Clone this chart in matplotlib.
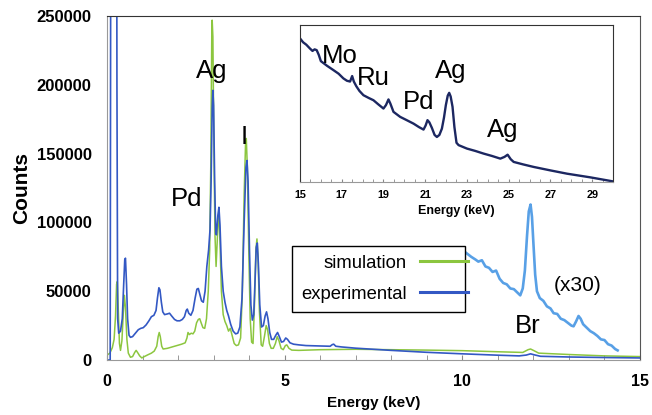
import numpy as np
import matplotlib.pyplot as plt

plt.rcParams['font.family'] = ['Liberation Sans', 'DejaVu Sans']

# simulated spectrum (keV, counts)
sim_energy = [0.0, 0.08, 0.15, 0.20, 0.24, 0.27, 0.29, 0.32, 0.35, 0.38, 0.42, 0.46, 0.49, 0.52,
              0.56, 0.60, 0.66, 0.72, 0.78, 0.82, 0.86, 0.92, 0.98, 1.05, 1.15, 1.25, 1.33, 1.40,
              1.44, 1.47, 1.50, 1.54, 1.58, 1.70, 1.90, 2.10, 2.20, 2.25, 2.28, 2.32, 2.37, 2.42,
              2.47, 2.52, 2.57, 2.61, 2.65, 2.70, 2.75, 2.80, 2.85, 2.89, 2.92, 2.95, 2.96, 2.98,
              3.01, 3.04, 3.07, 3.10, 3.13, 3.15, 3.18, 3.22, 3.27, 3.32, 3.37, 3.42, 3.47, 3.52,
              3.58, 3.64, 3.70, 3.76, 3.81, 3.86, 3.90, 3.92, 3.95, 3.99, 4.03, 4.07, 4.11, 4.15,
              4.19, 4.22, 4.25, 4.29, 4.34, 4.38, 4.43, 4.48, 4.52, 4.57, 4.62, 4.68, 4.74, 4.79,
              4.84, 4.90, 4.96, 5.02, 5.06, 5.12, 5.2, 5.4, 6.0, 7.0, 8.0, 9.0, 10.0, 11.0, 11.7,
              11.85, 11.92, 12.0, 12.15, 13.0, 14.0, 15.0]
sim_counts = [3500, 5000, 9000, 15000, 32000, 55000, 57000, 35000, 12000, 7000, 14000, 35000,
              47000, 38000, 15000, 5000, 2000, 2500, 5500, 7000, 5500, 3000, 1500, 2500, 3800,
              5000, 6500, 10000, 17000, 20000, 17000, 10000, 8000, 8500, 10000, 11500, 12500,
              16000, 20000, 18500, 19500, 19000, 21000, 27000, 29500, 30000, 27000, 23500, 23000,
              30000, 50000, 80000, 140000, 240000, 247000, 235000, 150000, 90000, 68000, 85000,
              104000, 107000, 85000, 50000, 33000, 28000, 25000, 21000, 23000, 18000, 12000,
              10500, 11000, 16000, 50000, 120000, 158000, 161000, 140000, 80000, 30000, 13000,
              12000, 40000, 80000, 88000, 75000, 35000, 11000, 10000, 17000, 25000, 22000, 12000,
              8500, 8500, 12000, 17000, 14000, 8500, 7500, 10500, 11000, 8500, 7200, 7000, 7500,
              7800, 7500, 7200, 6800, 6000, 5500, 7500, 8000, 7000, 5000, 4000, 3000, 2500]

# experimental spectrum (keV, counts)
exp_energy = [0.0, 0.09, 0.12, 0.26, 0.28, 0.30, 0.33, 0.38, 0.43, 0.47, 0.50, 0.52, 0.55, 0.58,
              0.62, 0.66, 0.72, 0.80, 0.88, 0.95, 1.02, 1.10, 1.18, 1.25, 1.32, 1.38, 1.42, 1.46,
              1.49, 1.53, 1.57, 1.62, 1.70, 1.76, 1.82, 1.90, 1.97, 2.05, 2.12, 2.18, 2.23, 2.26,
              2.30, 2.36, 2.42, 2.48, 2.53, 2.57, 2.61, 2.66, 2.71, 2.76, 2.81, 2.86, 2.90, 2.93,
              2.96, 2.98, 3.00, 3.03, 3.06, 3.08, 3.12, 3.15, 3.18, 3.22, 3.27, 3.32, 3.37, 3.42,
              3.48, 3.55, 3.62, 3.68, 3.74, 3.80, 3.86, 3.91, 3.94, 3.97, 4.01, 4.05, 4.09, 4.13,
              4.17, 4.20, 4.23, 4.26, 4.30, 4.35, 4.40, 4.45, 4.49, 4.53, 4.58, 4.63, 4.69, 4.75,
              4.80, 4.85, 4.91, 4.97, 5.03, 5.08, 5.15, 5.25, 5.4, 5.6, 6.0, 6.28, 6.34, 6.38,
              6.44, 6.6, 7.0, 8.0, 9.0, 10.0, 11.0, 11.6, 11.8, 11.92, 12.02, 12.2, 13.0, 14.0,
              15.0]
exp_counts = [0, 0, 600000, 600000, 200000, 30000, 19500, 21000, 30000, 55000, 73000, 74000,
              55000, 30000, 18000, 16500, 17000, 19500, 22000, 23000, 23500, 25500, 28500, 31500,
              32500, 36000, 45000, 52500, 51000, 42000, 35000, 33000, 33500, 34000, 32000, 29500,
              28500, 28500, 29500, 31500, 36000, 37000, 34000, 32500, 36000, 45000, 51500, 52000,
              48000, 43000, 42000, 50000, 68000, 80000, 95000, 130000, 183000, 196000, 185000,
              130000, 92000, 91000, 105000, 111000, 98000, 68000, 50000, 42000, 36000, 32000,
              26000, 21000, 19000, 19500, 24000, 45000, 100000, 140000, 145000, 130000, 80000,
              40000, 29000, 33000, 60000, 82000, 85000, 70000, 40000, 24000, 25000, 32000, 35000,
              30000, 20000, 15000, 15000, 18000, 20000, 17000, 13000, 13500, 16000, 15000, 12500,
              11500, 11000, 10500, 10200, 10000, 11200, 11500, 10000, 9500, 8600, 7000, 5600,
              4500, 3500, 3000, 3600, 4500, 3800, 2700, 2200, 1800, 1500]

# experimental x30 (high energy part)
x30_energy = [10.1, 10.25, 10.37, 10.45, 10.55, 10.65, 10.75, 10.85, 10.95, 11.05, 11.15, 11.25,
              11.35, 11.45, 11.55, 11.63, 11.70, 11.76, 11.82, 11.87, 11.92, 11.96, 12.00, 12.05,
              12.10, 12.18, 12.28, 12.38, 12.48, 12.57, 12.67, 12.77, 12.87, 12.97, 13.07, 13.13,
              13.20, 13.27, 13.33, 13.40, 13.50, 13.60, 13.70, 13.80, 13.90, 14.00, 14.10, 14.20,
              14.30, 14.37]
x30_counts = [78000, 75000, 73000, 71500, 72500, 68000, 67000, 64000, 65000, 59000, 56000, 55000,
              52000, 51500, 49000, 47000, 52000, 65000, 90000, 108000, 113000, 104000, 85000,
              62000, 50000, 45000, 43000, 39000, 37500, 34000, 33500, 30000, 29000, 27000, 25000,
              24500, 28000, 32000, 30000, 26000, 23500, 21000, 19500, 17500, 15000, 14500, 11500,
              10500, 8000, 7000]

# inset spectrum (keV, relative height)
ins_energy = [15.0, 15.15, 15.3, 15.48, 15.6, 15.7, 15.8, 15.9, 16.0, 16.1, 16.3, 16.6, 16.85,
              17.08, 17.25, 17.4, 17.5, 17.58, 17.7, 17.85, 18.04, 18.3, 18.52, 18.75, 19.0,
              19.12, 19.24, 19.33, 19.48, 19.8, 20.1, 20.44, 20.7, 20.92, 21.02, 21.11, 21.2,
              21.32, 21.45, 21.56, 21.68, 21.8, 21.9, 21.99, 22.08, 22.15, 22.22, 22.31, 22.4,
              22.5, 22.6, 23.0, 23.4, 23.8, 24.2, 24.6, 24.8, 24.95, 25.1, 25.24, 25.7, 26.2,
              27.0, 27.8, 28.9, 30.0]
ins_level = [0.915, 0.89, 0.875, 0.85, 0.835, 0.845, 0.84, 0.81, 0.77, 0.76, 0.74, 0.713, 0.69,
             0.66, 0.645, 0.64, 0.675, 0.64, 0.61, 0.58, 0.553, 0.535, 0.521, 0.495, 0.468, 0.49,
             0.526, 0.50, 0.447, 0.415, 0.395, 0.372, 0.35, 0.334, 0.36, 0.394, 0.38, 0.345,
             0.30, 0.287, 0.30, 0.34, 0.41, 0.49, 0.55, 0.568, 0.545, 0.479, 0.35, 0.25, 0.235,
             0.213, 0.198, 0.181, 0.166, 0.149, 0.16, 0.174, 0.145, 0.128, 0.112, 0.096, 0.074,
             0.053, 0.03, 0.004]

green = '#8cc63f'
blue = '#3358c4'
light_blue = '#58a0e6'
navy = '#1c2761'

fig = plt.figure(figsize=(6.52, 4.15), dpi=100)
ax = fig.add_axes([0.1641, 0.1325, 0.8175, 0.8289])

l_sim, = ax.plot(sim_energy, sim_counts, color=green, lw=1.1)
l_exp, = ax.plot(exp_energy, exp_counts, color=blue, lw=1.2)
ax.plot(x30_energy, x30_counts, color=light_blue, lw=1.9)

ax.set_xlim(0, 15)
ax.set_ylim(0, 250000)
ax.set_xticks([0, 5, 10, 15])
ax.set_xticks(np.arange(0, 16, 1), minor=True)
ax.set_yticks(np.arange(0, 250001, 50000))
ax.tick_params(axis='x', which='both', direction='in', length=3.5, color='#888888', pad=10, labelsize=11.5)
ax.tick_params(axis='y', length=0, pad=11, labelsize=12)
for lab in ax.get_xticklabels() + ax.get_yticklabels():
    lab.set_fontweight('bold')
ax.spines['left'].set_color('#999999')
ax.spines['bottom'].set_color('#999999')
ax.spines['top'].set_color('#333333')
ax.spines['right'].set_color('#555555')
ax.set_xlabel('Energy (keV)', fontsize=11, fontweight='bold', labelpad=5)
ax.set_ylabel('Counts', fontsize=15, fontweight='bold', labelpad=4)

ax.text(2.96, 201000, 'Ag', fontsize=18.5, ha='center', va='bottom')
ax.text(3.85, 153000, 'I', fontsize=18.5, ha='center', va='bottom')
ax.text(2.25, 108000, 'Pd', fontsize=18.5, ha='center', va='bottom')
ax.text(11.85, 16000, 'Br', fontsize=18.5, ha='center', va='bottom')
ax.text(13.25, 47000, '(x30)', fontsize=15, ha='center', va='bottom')

leg = ax.legend([l_sim, l_exp], ['simulation', 'experimental'], loc='lower left',
                bbox_to_anchor=(0.330, 0.113, 0.359, 0.198), mode='expand',
                markerfirst=False, fontsize=13.3, frameon=True, fancybox=False,
                handlelength=2.6, labelspacing=0.75, borderpad=0.5, handletextpad=0.7)
leg.get_frame().set_edgecolor('black')
leg.get_frame().set_linewidth(1.0)
leg.get_frame().set_alpha(1)
for h in leg.legend_handles:
    h.set_linewidth(2.2)
leg.set_zorder(5)

ins = fig.add_axes([0.4601, 0.5614, 0.4801, 0.3783])
ins.plot(ins_energy, ins_level, color=navy, lw=1.7)
ins.set_xlim(15, 30)
ins.set_ylim(0, 1)
ins.set_yticks([])
ins.set_xticks(np.arange(15, 30, 2))
ins.set_xticks(np.arange(15, 30.01, 0.5), minor=True)
ins.tick_params(axis='x', which='both', direction='in', length=2.5, color='#888888', pad=6, labelsize=7.8)
for lab in ins.get_xticklabels():
    lab.set_fontweight('bold')
for s in ins.spines.values():
    s.set_color('#333333')
    s.set_linewidth(0.8)
ins.spines['bottom'].set_color('#999999')
ins.set_xlabel('Energy (keV)', fontsize=9, fontweight='bold', labelpad=3)

ins.text(16.9, 0.80, 'Mo', fontsize=18.5, ha='center', va='center')
ins.text(18.5, 0.66, 'Ru', fontsize=18.5, ha='center', va='center')
ins.text(20.7, 0.51, 'Pd', fontsize=18.5, ha='center', va='center')
ins.text(22.2, 0.71, 'Ag', fontsize=18.5, ha='center', va='center')
ins.text(24.7, 0.33, 'Ag', fontsize=18.5, ha='center', va='center')

fig.savefig('out.png', dpi=100)
